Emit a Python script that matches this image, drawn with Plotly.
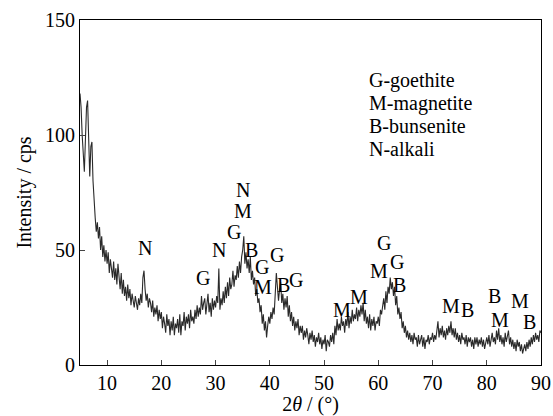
import numpy as np
import plotly.graph_objects as go

# 2theta sampling grid (degrees) and intensity (cps)
theta_start, theta_step = 5.0, 0.2
intensity = [
    118, 112, 100, 92, 84,
    98, 112, 115, 90, 82,
    95, 97, 80, 70, 64,
    58, 62, 55, 60, 50,
    56, 47, 52, 45, 50,
    44, 49, 40, 46, 42,
    38, 45, 37, 42, 35,
    44, 36, 33, 40, 31,
    37, 30, 34, 28, 35,
    29, 33, 26, 31, 28,
    25, 30, 27, 24, 29,
    26, 31, 27, 38, 41,
    33, 28, 31, 25, 29,
    27, 23, 28, 21, 25,
    22, 26, 19, 24, 20,
    23, 16, 21, 18, 14,
    22, 17, 20, 13, 19,
    15, 21, 13, 18, 16,
    20, 14, 22, 13, 19,
    17, 23, 15, 21, 18,
    22, 16, 24, 19, 21,
    18, 24, 20, 26, 21,
    25, 22, 30, 24, 27,
    29, 22, 26, 31, 23,
    27, 21, 29, 24, 28,
    25, 30, 27, 42, 24,
    29, 26, 32, 27, 34,
    29, 36, 30, 38, 33,
    35, 41, 34, 39, 37,
    43, 38, 45, 40, 47,
    50, 56, 44, 49, 42,
    46, 40, 47, 37, 41,
    35, 38, 30, 33, 27,
    29, 23, 26, 18, 22,
    15, 19, 12, 17, 21,
    18, 23, 20, 25, 22,
    30, 40, 34, 28, 33,
    36, 27, 31, 24, 29,
    25, 30, 21, 26, 19,
    23, 17, 21, 15, 19,
    16, 20, 13, 17, 14,
    17, 11, 15, 12, 16,
    13, 9, 14, 11, 15,
    10, 13, 8, 12, 10,
    14, 9, 12, 7, 11,
    9, 13, 6, 11, 10,
    8, 13, 10, 14, 9,
    17, 13, 20, 15, 18,
    15, 21, 17, 19, 14,
    20, 17, 23, 16, 21,
    18, 24, 19, 22, 20,
    25, 19, 24, 21, 26,
    22, 27, 19, 24, 18,
    21, 16, 22, 15, 20,
    17, 21, 15, 19, 18,
    21, 17, 24, 22, 26,
    29, 24, 32, 27, 34,
    31, 38, 33, 36, 30,
    34, 26, 30, 22, 25,
    20, 23, 16, 19, 14,
    17, 12, 15, 11, 14,
    10, 13, 9, 14, 11,
    12, 8, 13, 9, 11,
    13, 8, 12, 7, 11,
    10, 13, 9, 12, 11,
    14, 10, 13, 11, 15,
    19, 12, 16, 13, 17,
    12, 15, 11, 16, 13,
    17, 14, 19, 13, 16,
    12, 16, 11, 14, 10,
    13, 9, 14, 11, 12,
    9, 13, 8, 12, 10,
    12, 8, 11, 7, 12,
    9, 12, 8, 11, 9,
    12, 8, 11, 7, 10,
    12, 9, 13, 8, 11,
    14, 10, 12, 9, 15,
    11, 16, 10, 13, 9,
    12, 8, 14, 10, 13,
    15, 9, 12, 8, 11,
    7, 10, 6, 11, 8,
    10, 6, 9, 5, 8,
    9, 6, 10, 7, 11,
    8, 12, 9, 13, 10,
    14, 11, 13, 10, 15,
    14,
]
two_theta = theta_start + theta_step * np.arange(len(intensity))

# Phase labels on peaks
peak_labels = ["N", "G", "N", "G", "N", "M", "B", "G", "M", "G", "B", "G",
               "M", "M", "G", "M", "G", "B", "M", "B", "B", "M", "M", "B"]
peak_x = [16.9, 27.6, 30.7, 33.4, 35.1, 35.1, 36.7, 38.6, 38.8, 41.3, 42.6, 44.8,
          53.3, 56.4, 61.1, 60.2, 63.5, 63.9, 73.4, 76.4, 81.5, 82.4, 86.1, 87.9]
peak_y = [51, 38, 50, 58, 76, 67, 50, 42.6, 34, 48, 35, 37,
          24, 29.6, 53, 41, 45, 35, 25.7, 24, 30, 19.6, 27.8, 18.7]

legend_lines = ["G-goethite", "M-magnetite", "B-bunsenite", "N-alkali"]

x_ticks = [10, 20, 30, 40, 50, 60, 70, 80, 90]
y_ticks = [0, 50, 100, 150]

FONT = "Times New Roman, Liberation Serif, DejaVu Serif, serif"
W, H = 553, 416
ML, MR, MT, MB = 80, 12, 20, 51

fig = go.Figure()
fig.add_trace(go.Scatter(x=two_theta, y=intensity, mode="lines",
                         line=dict(color="#2a2a2a", width=1.1), showlegend=False))

for t, x, y in zip(peak_labels, peak_x, peak_y):
    fig.add_annotation(x=x, y=y, text=t, showarrow=False, xref="x", yref="y",
                       font=dict(family=FONT, size=20, color="black"))

plot_h = H - MT - MB
for i, line in enumerate(legend_lines):
    ypx = 80 + 23 * i
    fig.add_annotation(x=(367 - ML) / (W - ML - MR), y=(H - MB - ypx) / plot_h,
                       xref="paper", yref="paper", xanchor="left", yanchor="middle",
                       text=line, showarrow=False,
                       font=dict(family=FONT, size=20, color="black"))

fig.update_layout(
    width=W, height=H,
    margin=dict(l=ML, r=MR, t=MT, b=MB),
    paper_bgcolor="white", plot_bgcolor="white",
    font=dict(family=FONT, size=20, color="black"),
    xaxis=dict(range=[5, 90], tickvals=x_ticks, ticks="inside", ticklen=5,
               showline=True, linecolor="black", linewidth=1, mirror=True,
               showgrid=False, zeroline=False, automargin=False,
               tickfont=dict(family=FONT, size=20),
               title=dict(text="2<i>θ</i> / (°)", standoff=2, font=dict(family=FONT, size=20))),
    yaxis=dict(range=[0, 150], tickvals=y_ticks, ticks="inside", ticklen=5,
               showline=True, linecolor="black", linewidth=1, mirror=True,
               showgrid=False, zeroline=False, automargin=False,
               tickfont=dict(family=FONT, size=20),
               title=dict(text="Intensity / cps", standoff=8, font=dict(family=FONT, size=20))),
)

fig.write_html("out.html")
